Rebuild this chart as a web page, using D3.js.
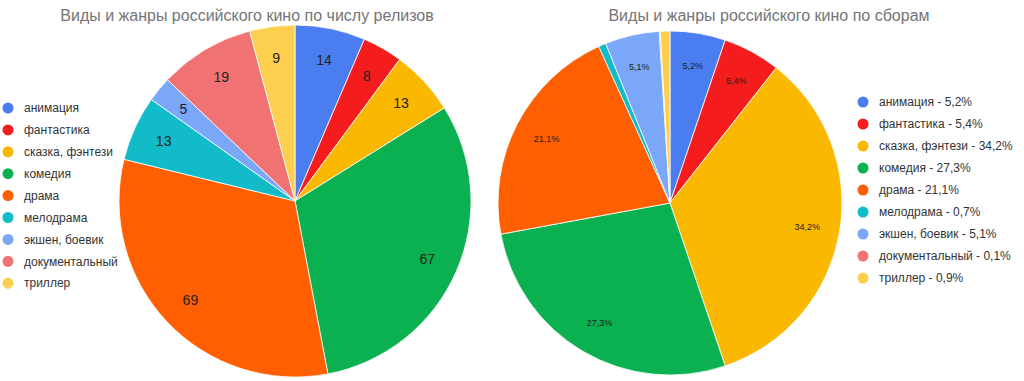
<!DOCTYPE html>
<html><head><meta charset="utf-8">
<script src="https://cdn.jsdelivr.net/npm/d3@7"></script>
<style>body{margin:0;background:#fff}svg{display:block}text{font-family:"Liberation Sans",Arial,sans-serif}</style>
</head><body><svg id="c" width="1024" height="381"></svg>
<script>
const categories = ["анимация","фантастика","сказка, фэнтези","комедия","драма","мелодрама","экшен, боевик","документальный","триллер"];
const releases = [14, 8, 13, 67, 69, 13, 5, 19, 9];
const boxOffice = [5.2, 5.4, 34.2, 27.3, 21.1, 0.7, 5.1, 0.1, 0.9];
const colors = ["#4a7ef0","#f41c1c","#fbb800","#0bb050","#ff5f00","#12bbc8","#7aa7f7","#f17272","#fccf4f"];
const titles = ["Виды и жанры российского кино по числу релизов","Виды и жанры российского кино по сборам"];

const svg = d3.select("#c");
const color = d3.scaleOrdinal().domain(categories).range(colors);
const pie = d3.pie().sort(null).value(d => d.v);

function drawPie(cx, cy, r, values, labelFmt, fontSize, minFrac, labelR){
  const data = categories.map((c,i)=>({c, v: values[i]}));
  const arcs = pie(data);
  const total = d3.sum(values);
  const g = svg.append("g").attr("transform",`translate(${cx},${cy})`);
  const arc = d3.arc().innerRadius(0).outerRadius(r);
  g.selectAll("path").data(arcs).join("path")
    .attr("d", arc).attr("fill", d => color(d.data.c))
    .attr("stroke","#fff").attr("stroke-width",0.8);
  const la = d3.arc().innerRadius(labelR*r).outerRadius(labelR*r);
  g.selectAll("text").data(arcs.filter(d => d.data.v/total >= minFrac)).join("text")
    .attr("transform", d => `translate(${la.centroid(d)})`)
    .attr("text-anchor","middle").attr("dy","0.35em")
    .attr("font-size", fontSize).attr("fill","#222")
    .text(d => labelFmt(d.data.v));
}

drawPie(295, 201, 176, releases, v => v, 14, 0.02, 0.82);
drawPie(670, 203, 172, boxOffice, v => String(v).replace(".",",") + "%", 9, 0.02, 0.81);

svg.append("text").attr("x",247).attr("y",21).attr("text-anchor","middle")
  .attr("font-size",16).attr("fill","#757575").text(titles[0]);
svg.append("text").attr("x",769).attr("y",21).attr("text-anchor","middle")
  .attr("font-size",16).attr("fill","#757575").text(titles[1]);

function legend(x, y0, step, labels){
  const g = svg.append("g");
  const items = g.selectAll("g").data(categories).join("g")
    .attr("transform",(d,i)=>`translate(${x},${y0+i*step})`);
  items.append("circle").attr("r",5.5).attr("fill", d => color(d));
  items.append("text").attr("x",16).attr("dy","0.35em").attr("font-size",12)
    .attr("fill","#333").text((d,i)=>labels[i]);
}
legend(8, 108, 21.9, categories);
legend(863, 102, 22, categories.map((c,i)=> c + " - " + String(boxOffice[i]).replace(".",",") + "%"));
</script></body></html>
